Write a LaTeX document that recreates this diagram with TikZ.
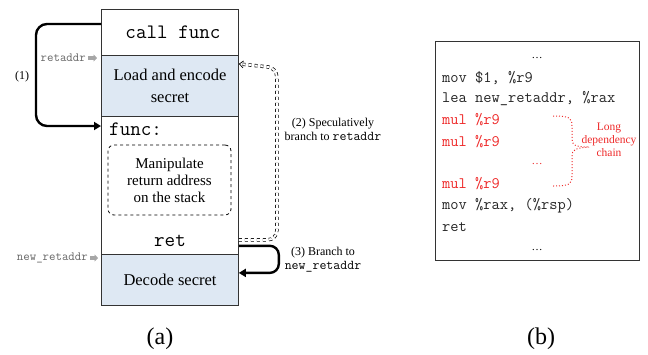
\documentclass[tikz,border=0pt]{standalone}
\usepackage{fontspec}
\setmainfont{Liberation Serif}
\usetikzlibrary{arrows.meta,calc}
\definecolor{boxblue}{HTML}{DEE8F3}
\definecolor{arrgray}{HTML}{A6A6A6}
\definecolor{codered}{HTML}{EE2A2A}
\tikzset{
  row/.style={draw=black!80, line width=0.8pt, anchor=north west, inner sep=0pt, minimum width=137pt},
  bigarr/.style={line width=2.4pt, rounded corners=11pt, -{Triangle[length=7pt,width=8pt]}},
  grayarr/.style={line width=3.2pt, arrgray, -{Triangle[length=3.5pt,width=7pt]}},
  lbl/.style={inner sep=0pt, font=\fontsize{12}{14}\selectfont, align=center},
  glbl/.style={inner sep=0pt, font=\fontsize{12.5}{13}\ttfamily, text=black!60, anchor=east},
  code/.style={inner sep=0pt, anchor=west, font=\fontsize{16}{16}\ttfamily, text=black!85},
  rcode/.style={code, text=codered},
  dots/.style={inner sep=0pt, font=\fontsize{11}{13}\selectfont},
}
\begin{document}
\begin{tikzpicture}[x=1pt,y=-1pt]
\useasboundingbox (0,0) rectangle (648,354);
% stack rows
\node[row, minimum height=46pt] (call) at (101,9) {};
\node[row, minimum height=61pt, fill=boxblue] (load) at (101,55) {};
\node[row, minimum height=138pt] (func) at (101,116) {};
\node[row, minimum height=51pt, fill=boxblue] (decode) at (101,254) {};
\node[inner sep=0pt, font=\fontsize{20.5}{22}\ttfamily] (calltxt) at (173,32) {call func};
\node[inner sep=0pt, font=\fontsize{16.5}{22}\selectfont, align=center] (loadtxt) at (170,86) {Load and encode\\secret};
\node[inner sep=0pt, font=\fontsize{20.5}{22}\ttfamily, anchor=west] (functxt) at (109,129) {func:};
\node[draw, dashed, line width=0.8pt, rounded corners=6pt, minimum width=123pt, minimum height=70pt, inner sep=0pt,
      font=\fontsize{15}{17}\selectfont, align=center] (manip) at (169.5,180) {Manipulate\\return address\\on the stack};
\node[inner sep=0pt, font=\fontsize{20.5}{22}\ttfamily] (rettxt) at (170,241) {ret};
\node[inner sep=0pt, font=\fontsize{16.5}{20}\selectfont] (dectxt) at (170,280) {Decode secret};
% gray labels
\node[glbl] (ra) at (86,58) {retaddr};
\coordinate (raA) at (88,58);
\coordinate (raB) at (97,58);
\draw[grayarr] (raA) -- (raB);
\node[glbl] (nra) at (88,258) {new\_retaddr};
\coordinate (nraA) at (90,258);
\coordinate (nraB) at (98,258);
\draw[grayarr] (nraA) -- (nraB);
% arrow (1)
\draw[bigarr] ([yshift=-15pt]call.north west) -- ++(-65,0) |- ([yshift=-10pt]func.north west);
\node[lbl] (l1) at (22,77) {(1)};
% arrow (2) double dashed
\draw[double=white, double distance=2pt, line width=0.7pt, dashed, rounded corners=9pt, -{Straight Barb[length=4pt,width=7pt]}]
  ([yshift=15pt]func.south east) -- ++(38,0) -- ++(0,-172) -- ([yshift=22pt]load.east);
\node[lbl] (l2) at (333,129) {(2) Speculatively\\branch to {\fontsize{13.5}{14}\ttfamily retaddr}};
% arrow (3)
\draw[bigarr, rounded corners=9pt] ([yshift=9pt]func.south east) -- ++(40,0) |- ([yshift=7pt]decode.east);
\node[lbl] (l3) at (323,260) {(3) Branch to\\{\fontsize{13.5}{14}\ttfamily new\_retaddr}};
% captions
\node[inner sep=0pt, font=\fontsize{24}{26}\selectfont] (capa) at (160,339) {(a)};
\node[inner sep=0pt, font=\fontsize{24}{26}\selectfont] (capb) at (541,339) {(b)};
% code panel
\node[draw=black!80, line width=0.9pt, anchor=north west, minimum width=204pt, minimum height=219pt, inner sep=0pt] (panel) at (435,41) {};
\node[dots] (d1) at (537,58) {\ldots};
\node[code] (c1) at (442,78) {mov \$1, \%r9};
\node[code] (c2) at (442,99) {lea new\_retaddr, \%rax};
\node[rcode] (c3) at (442,120) {mul \%r9};
\node[rcode] (c4) at (442,142) {mul \%r9};
\node[dots, text=codered] (d2) at (537,164) {\ldots};
\node[rcode] (c5) at (442,184) {mul \%r9};
\node[code] (c6) at (442,206) {mov \%rax, (\%rsp)};
\node[code] (c7) at (442,227) {ret};
\node[dots] (d3) at (537,250) {\ldots};
% brace
\draw[codered, dotted, line width=1pt]
  (553,116) .. controls (570,116) and (572,118) .. (572,126) -- (572,139)
  .. controls (572,145) and (575,147) .. (589,147);
\draw[codered, dotted, line width=1pt]
  (553,186) .. controls (570,186) and (572,184) .. (572,176) -- (572,156)
  .. controls (572,150) and (575,148) .. (589,147);
\node[inner sep=0pt, font=\fontsize{11.5}{13}\selectfont, text=codered, align=center] (chain) at (609,140) {Long\\dependency\\chain};
\end{tikzpicture}
\end{document}
